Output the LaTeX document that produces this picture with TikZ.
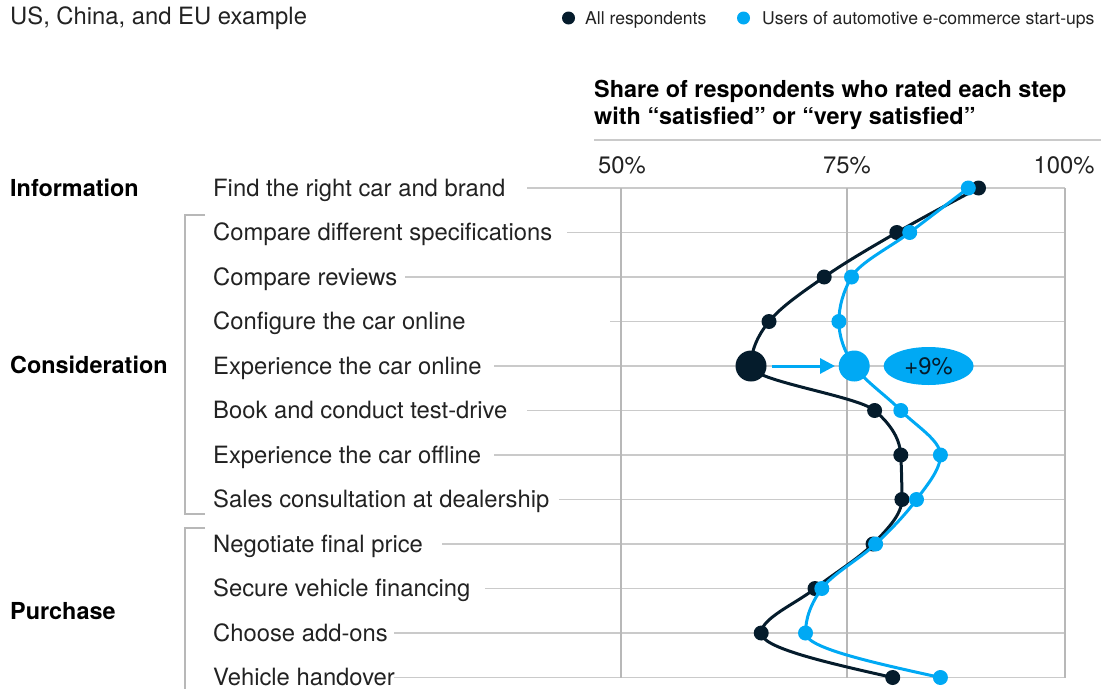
\documentclass[tikz,border=0pt]{standalone}
\usepackage{fontspec}
\setmainfont{TeX Gyre Heros}
\usepackage{tikz}
\usetikzlibrary{arrows.meta,positioning,shapes.geometric}
\definecolor{navy}{HTML}{051C2C}
\definecolor{cyanblue}{HTML}{00A9F4}
\definecolor{gridgray}{HTML}{CACACA}
\definecolor{axisgray}{HTML}{B8B8B8}
\definecolor{labelblack}{HTML}{222222}
\newcommand{\stepfont}{\fontsize{23.8}{27.5}\selectfont}
\newcommand{\headfont}{\fontsize{23.4}{27.5}\selectfont\bfseries}
\newcommand{\keyfont}{\fontsize{17.6}{21}\selectfont}
\tikzset{steplabel/.style={anchor=base west,inner sep=0,text=labelblack,font=\stepfont},
    phaselabel/.style={anchor=base west,inner sep=0,text=black,font=\headfont},
    ticklabel/.style={anchor=base,inner sep=0,text=labelblack,font=\stepfont},
    keylabel/.style={anchor=base west,inner sep=0,text=labelblack,font=\keyfont},
    hgrid/.style={draw=gridgray,line width=1.3pt},
    vgrid/.style={draw=axisgray,line width=2pt},
    bracketline/.style={draw=axisgray,line width=2pt},
    alldot/.style={circle,fill=navy,inner sep=0,minimum size=15pt},
    usrdot/.style={circle,fill=cyanblue,inner sep=0,minimum size=15pt},
    bigdot/.style={minimum size=31pt},
    allline/.style={draw=navy,line width=3pt},
    usrline/.style={draw=cyanblue,line width=3pt},
    gainarrow/.style={draw=cyanblue,line width=3pt,-{Triangle[length=15pt,width=15pt]},shorten <=5.5pt,shorten >=3.5pt},
    gainbubble/.style={ellipse,fill=cyanblue,inner sep=0,minimum width=90pt,minimum height=38pt,font=\stepfont,text=navy}
}
\newcommand{\ctrl}{14.833}
\newcommand{\monocurve}[3]
{
% args: (style, coordinate prefix, list of next index/slope here/slope there)
    \draw [#1] (#20) \foreach \j/\mi/\mj in {#3}
        { .. controls +({\ctrl*\mi},\ctrl) and +({-\ctrl*\mj},-\ctrl) .. (#2\j) };
}

\begin{document}
\begin{tikzpicture}[x=1pt,y=-1pt]
\useasboundingbox (0,0) rectangle (1115,688);

% title and key
\node [anchor=base west,inner sep=0,text=labelblack,font=\stepfont] (title) at (10,24) {US, China, and EU example};
\node [alldot,minimum size=13pt] (keyAll) at (568.5,18) {};
\node [keylabel] (keyAllText) at (585,24) {All respondents};
\node [usrdot,minimum size=13pt] (keyUsr) at (743.5,18) {};
\node [keylabel] (keyUsrText) at (762,24) {Users of automotive e-commerce start-ups};

% heading of the scale (base is the last line)
\node [anchor=base west,align=left,inner sep=0,text=black,font=\headfont] (heading) at (594,124.5)
    {Share of respondents who rated each step\\with “satisfied” or “very satisfied”};
\draw [draw=gridgray,line width=2pt] (594,140) -- (1101,140);

\node [ticklabel] (tick50) at (622,173) {50\%};
\node [ticklabel] (tick75) at (847,173) {75\%};
\node [ticklabel] (tick100) at (1064,173) {100\%};

% steps and grid
\foreach \i/\txt/\gx in {0/Find the right car and brand/527,
    1/Compare different specifications/567,
    2/Compare reviews/405,
    3/Configure the car online/610,
    4/Experience the car online/494,
    5/Book and conduct test-drive/527,
    6/Experience the car offline/494,
    7/Sales consultation at dealership/559,
    8/Negotiate final price/442,
    9/Secure vehicle financing/485,
    10/Choose add-ons/394,
    11/Vehicle handover/394}
{
    \pgfmathsetmacro\ry{188+44.5*\i}
    \node [steplabel] (step\i) at (213,\ry+8) {\txt};
    \draw [hgrid] (\gx,\ry) -- (1065,\ry);
}

\foreach \x in {621,847,1065}
    \draw [vgrid] (\x,188) -- (\x,677.5);

% phases
\node [phaselabel] (phaseInfo) at (10,196) {Information};
\node [phaselabel] (phaseCons) at (10,373.5) {Consideration};
\node [phaselabel] (phasePurch) at (10,619) {Purchase};

\draw [bracketline] (205,215) -- (185,215) -- (185,513.5) -- (205,513.5);
\draw [bracketline] (205,527.5) -- (185,527.5) -- (185,690);

% data points
\foreach \i/\xa/\xu in {0/978.5/968.3, 1/896.8/909.7, 2/824.2/851.5, 3/769/838.9,
    4/751/854.2, 5/874.6/900.8, 6/900.8/940.4, 7/901.9/916.5,
    8/873/875.6, 9/815/821.8, 10/761.2/805.5, 11/892.7/940.4}
{
    \coordinate (all\i) at (\xa,188+44.5*\i);
    \coordinate (usr\i) at (\xu,188+44.5*\i);
}

% all respondents
\monocurve{allline}{all}{1/-1.887/-1.734, 2/-1.734/-1.436, 3/-1.436/-0.808, 4/-0.808/0,
    5/0/1.178, 6/1.178/0.049, 7/0.049/0, 8/0/-0.976, 9/-0.976/-1.256, 10/-1.256/0, 11/0/4.433}
\foreach \i in {0,1,2,3,5,6,7,8,9,10,11}
    \node [alldot] (allDot\i) at (all\i) {};
\node [alldot,bigdot] (allBig) at (all4) {};

% users of start-ups
\monocurve{usrline}{usr}{1/-1.319/-1.313, 2/-1.313/-0.566, 3/-0.566/0, 4/0/0.688,
    5/0.688/0.969, 6/0.969/0, 7/0/-0.728, 8/-0.728/-1.064, 9/-1.064/-0.732, 10/-0.732/0, 11/0/4.547}
\foreach \i in {0,1,2,3,5,6,7,8,9,10,11}
    \node [usrdot] (usrDot\i) at (usr\i) {};
\node [usrdot,bigdot] (usrBig) at (usr4) {};

% gain
\draw [gainarrow] (allBig) -- (usrBig);
\node [gainbubble,right=13.5pt of usrBig] (gain) {+9\%};

\end{tikzpicture}
\end{document}
